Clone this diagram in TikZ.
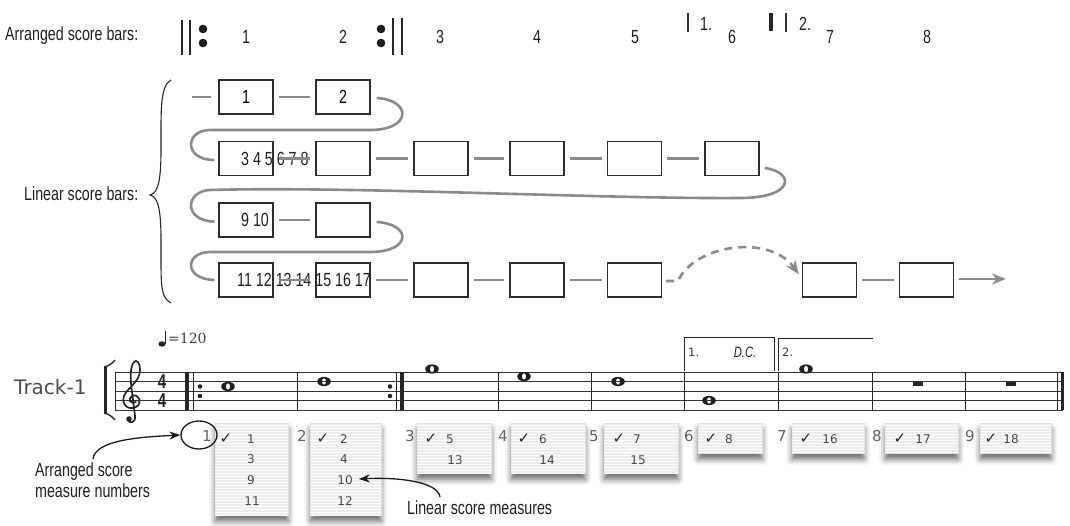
\documentclass[tikz,border=0pt]{standalone}
\usepackage{fontspec}
\setmainfont{Liberation Sans}[FakeStretch=0.75]
\newfontfamily\dvs{DejaVu Sans}
\newfontfamily\dvserif{DejaVu Serif}
\usetikzlibrary{arrows.meta,calc,shadows.blur,patterns,shapes.geometric}
\definecolor{linkgray}{RGB}{138,138,138}
\definecolor{boxline}{RGB}{45,45,45}
\newcommand\wnote[2]{\fill[black!88,even odd rule] (#1,#2) ellipse [x radius=6.8,y radius=4.6] (#1,#2) ellipse [x radius=2.1,y radius=3.3];}
\tikzset{
 lbl/.style={font=\fontsize{19}{21}\selectfont, text=black!88, inner sep=0pt},
 barbox/.style={draw=boxline, line width=1.3pt, fill=white, minimum width=54pt, minimum height=34pt, inner sep=0pt, font=\fontsize{19}{21}\selectfont},
 link/.style={draw=linkgray, line width=2.6pt},
 gap/.style={shorten <=5pt, shorten >=5pt},
 tip/.style={-{Stealth[length=14pt,width=11pt]}},
 staffline/.style={line width=0.9pt, draw=black!80},
 thinbar/.style={line width=1pt, draw=black!85},
 thickbar/.style={line width=3.2pt, draw=black!85},
 listbox/.style={draw=black!12, fill=black!7, postaction={pattern=horizontal lines, pattern color=white}, blur shadow={shadow xshift=0pt, shadow yshift=-6pt, shadow blur radius=6pt, shadow opacity=60}, inner sep=0pt, anchor=north west},
 mnum/.style={font=\dvs\fontsize{15}{17}\selectfont, text=black!62, inner sep=0pt},
 lnum/.style={font=\dvs\fontsize{12}{13}\selectfont, text=black!72, inner sep=0pt},
 chk/.style={font=\dvs\bfseries\fontsize{15}{16}\selectfont, text=black!85, inner sep=0pt},
 annot/.style={-{Stealth[length=11pt,width=8pt]}, line width=1.3pt, draw=black!90},
}
\begin{document}
\begin{tikzpicture}[x=1pt,y=-1pt]
\useasboundingbox (0,0) rectangle (1070,525);
% ---------- arranged score bars ----------
\node[lbl, anchor=west] (arrlbl) at (5,36) {Arranged score bars:};
\draw[line width=1.3pt, black!85] (182,20) -- (182,55) (190,20) -- (190,55);
\fill[black!90] (203,29) circle (4.3) (203,43) circle (4.3);
\fill[black!90] (381,29) circle (4.3) (381,43) circle (4.3);
\draw[line width=1.3pt, black!85] (393,18) -- (393,55) (402,18) -- (402,55);
\foreach \i/\x in {1/246,2/343,3/440,4/537,5/635,6/732,7/830,8/927}
  \node[lbl] (top\i) at (\x,37) {\i};
\draw[line width=1.3pt, black!80] (688,13) -- (688,32);
\node[lbl, anchor=west] (vol1) at (700,24) {1.};
\draw[line width=3.5pt, black!85] (771,13) -- (771,31);
\draw[line width=1.3pt, black!80] (786,13) -- (786,32);
\node[lbl, anchor=west] (vol2) at (799,24) {2.};
% ---------- linear score bars ----------
\node[lbl, anchor=west] (linlbl) at (24,194) {Linear score bars:};
\draw[line width=1.1pt, black!85] (171,80) .. controls (160,86) and (161,110) .. (161,150) .. controls (161,185) and (157,193) .. (150,195) .. controls (157,197) and (161,205) .. (161,240) .. controls (161,285) and (160,297) .. (171,303);
% boxes
\node[barbox] (r1c1) at (246,97) {1};
\node[barbox] (r1c2) at (343,97) {2};
\foreach \c/\x in {1/246,2/343,3/441,4/537,5/634.5,6/732}
  \node[barbox] (r2c\c) at (\x,158.5) {};
\node[barbox] (r3c1) at (246,220) {};
\node[barbox] (r3c2) at (343,220) {};
\foreach \c/\x in {1/246,2/343,3/441,4/537,5/634.5,7/829.5,8/926.5}
  \node[barbox] (r4c\c) at (\x,280) {};
\node[lbl, anchor=west] (txt2) at (241,158.5) {3 4 5 6 7 8};
\node[lbl, anchor=west] (txt3) at (241,220) {9 10};
\node[lbl, anchor=west] (txt4) at (237,280) {11 12 13 14 15 16 17};
% connectors
\coordinate (lead) at (192,97);
\draw[link] (lead) -- ($(r1c1.west)+(-7,0)$);
\draw[link, gap] (r1c1.east) -- (r1c2.west);
\foreach \a/\b in {1/2,2/3,3/4,4/5,5/6}
  \draw[link, gap] (r2c\a.east) -- (r2c\b.west);
\draw[link, gap] (r3c1.east) -- (r3c2.west);
\foreach \a/\b in {1/2,2/3,3/4,4/5,7/8}
  \draw[link, gap] (r4c\a.east) -- (r4c\b.west);
\draw[link] ($(r1c2.east)+(6,1)$) .. controls (412,100) and (412,130) .. (370,130) -- (210,130) .. controls (185,130) and (183,160) .. ($(r2c1.west)+(-4,1.5)$);
\draw[link] ($(r2c6.east)+(5,9.5)$) .. controls (795,172) and (795,198) .. (740,198) .. controls (600,199) and (350,186) .. (210,190) .. controls (185,191) and (183,221) .. ($(r3c1.west)+(-4,1.5)$);
\draw[link] ($(r3c2.east)+(6,2)$) .. controls (412,224) and (412,252) .. (370,252) -- (210,252) .. controls (185,252) and (183,279) .. ($(r4c1.west)+(-4,0)$);
\draw[link, dash pattern=on 8pt off 6pt, tip] ($(r4c5.east)+(4,1)$) -- (678,281) .. controls (695,244) and (770,234) .. ($(r4c7.north west)+(-3,12)$);
\coordinate (endarrow) at (1006,279);
\draw[link, tip] ($(r4c8.east)+(5,-1)$) -- (endarrow);
% ---------- staff ----------
\fill[black!85] (162,344) ellipse [x radius=3.6, y radius=2.7];
\draw[line width=1pt, black!85] (165.3,343.5) -- (165.3,331);
\node[font=\dvserif\fontsize{14}{16}\selectfont, anchor=west, inner sep=0pt, text=black!75] (tempo) at (168,338) {=120};
\node[font=\dvs\fontsize{20}{22}\selectfont, anchor=west, inner sep=0pt, text=black!70] (track) at (14,387) {Track-1};
\draw[line width=3pt, black!85] (105,366) -- (105,414);
\draw[line width=1.4pt, black!85] (104,367) .. controls (108,366) and (112,364) .. (115,360);
\draw[line width=1.4pt, black!85] (104,413) .. controls (108,414) and (112,416) .. (115,420);
\foreach \y in {372,381.5,391,400.5,410}
  \draw[staffline] (115,\y) -- (1063,\y);
\draw[thinbar] (115,372) -- (115,410);
% treble clef
\draw[line width=1.7pt, black!85, line cap=round] (136,402) .. controls (131,405) and (127,399) .. (132,396) .. controls (139,393) and (143,403) .. (136,407) .. controls (128,411) and (121,404) .. (124,396) .. controls (127,388) and (140,382) .. (140,370) .. controls (140,362) and (136,359) .. (134,362) .. controls (130,367) and (130,378) .. (132,392) -- (135,416) .. controls (136,423) and (129,424) .. (128,420);
\fill[black!85] (129,419) circle (2.8);
\node[font=\bfseries\fontsize{20}{20}\selectfont, inner sep=0pt, text=black!85] (tsa) at (162,381.5) {4};
\node[font=\bfseries\fontsize{20}{20}\selectfont, inner sep=0pt, text=black!85] (tsb) at (162,400.5) {4};
% barlines
\draw[thickbar] (187,372) -- (187,410);
\draw[thinbar] (193,372) -- (193,410);
\fill[black!85] (200,386.5) circle (2.3) (200,396) circle (2.3);
\fill[black!85] (390,386.5) circle (2.3) (390,396) circle (2.3);
\draw[thinbar] (396,372) -- (396,410);
\draw[thickbar] (402,372) -- (402,410);
\foreach \x in {297,498,591,684,778,872,965}
  \draw[thinbar] (\x,372) -- (\x,410);
\draw[thinbar] (1057,372) -- (1057,410);
\draw[line width=3.5pt, black!85] (1062.5,372) -- (1062.5,410);
% notes
\wnote{228}{386.5}
\wnote{324}{381.5}
\wnote{432}{369}
\wnote{524}{376.5}
\wnote{618}{381.5}
\wnote{709}{400.5}
\wnote{806}{369}
\fill[black!85] (913,381.5) rectangle (923,385.8);
\fill[black!85] (1006,381.5) rectangle (1016,385.8);
% volta brackets
\draw[line width=1pt, black!85] (684,371) -- (684,337) -- (774,337) -- (774,371);
\draw[line width=1pt, black!85] (778,371) -- (778,338) -- (873,338);
\node[font=\dvs\fontsize{11.5}{13}\selectfont, anchor=west, inner sep=0pt, text=black!80] (v1) at (688,352) {1.};
\node[font=\itshape\fontsize{15}{17}\selectfont, inner sep=0pt, text=black!85] (dc) at (745,352) {D.C.};
\node[font=\dvs\fontsize{11.5}{13}\selectfont, anchor=west, inner sep=0pt, text=black!80] (v2) at (782,352) {2.};
% ---------- measure lists ----------
\node[listbox, minimum width=73pt, minimum height=92pt] (lb1) at (215,423) {};
\node[listbox, minimum width=71pt, minimum height=92pt] (lb2) at (310,423) {};
\node[listbox, minimum width=74pt, minimum height=50pt] (lb3) at (417,423) {};
\node[listbox, minimum width=74pt, minimum height=50pt] (lb4) at (511,423) {};
\node[listbox, minimum width=74pt, minimum height=50pt] (lb5) at (604,423) {};
\node[listbox, minimum width=64pt, minimum height=30pt] (lb6) at (698,423) {};
\node[listbox, minimum width=72pt, minimum height=30pt] (lb7) at (792,423) {};
\node[listbox, minimum width=73pt, minimum height=30pt] (lb8) at (885,423) {};
\node[listbox, minimum width=71pt, minimum height=30pt] (lb9) at (980,423) {};
\foreach \i/\x in {1/207,2/302,3/410,4/503,5/594,6/689,7/782,8/877,9/970}
  \node[mnum] (m\i) at (\x,436) {\i};
\foreach \k/\x in {1/226,2/323,3/431,4/524,5/619,6/711,7/806,8/900,9/991}
  \node[chk] (ck\k) at (\x,439) {✓};
\node[lnum] (n1a) at (251,439) {1};
\node[lnum] (n1b) at (251,459) {3};
\node[lnum] (n1c) at (251,480) {9};
\node[lnum] (n1d) at (252,501) {11};
\node[lnum] (n2a) at (344,439) {2};
\node[lnum] (n2b) at (344,459) {4};
\node[lnum] (n2c) at (345,480) {10};
\node[lnum] (n2d) at (345,501) {12};
\node[lnum] (n3a) at (450,439) {5};
\node[lnum] (n3b) at (455,460) {13};
\node[lnum] (n4a) at (543,439) {6};
\node[lnum] (n4b) at (547,460) {14};
\node[lnum] (n5a) at (637,439) {7};
\node[lnum] (n5b) at (638,460) {15};
\node[lnum] (n6a) at (729,439) {8};
\node[lnum] (n7a) at (830,439) {16};
\node[lnum] (n8a) at (923,439) {17};
\node[lnum] (n9a) at (1011,439) {18};
% annotations
\node[draw=black!90, line width=1.3pt, ellipse, minimum width=36pt, minimum height=28pt, inner sep=0pt] (circ) at (199,435) {};
\node[lbl, anchor=west, align=left, font=\fontsize{19}{20.5}\selectfont] (amn) at (35,480) {Arranged score\\measure numbers};
\coordinate (a1) at (93,459);
\draw[annot] (a1) .. controls (95,440) and (140,437) .. (circ.west);
\node[lbl, anchor=west] (lsm) at (407,508) {Linear score measures};
\coordinate (a2) at (440,497);
\draw[annot] (a2) .. controls (438,482) and (400,477) .. ($(n2c.east)+(6,-1)$);
\end{tikzpicture}
\end{document}
